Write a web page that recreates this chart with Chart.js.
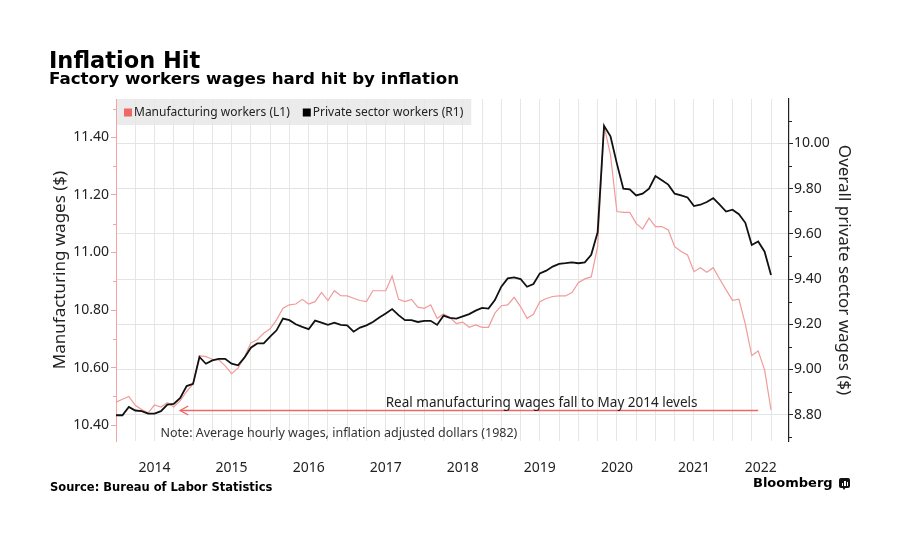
<!DOCTYPE html>
<html>
<head>
<meta charset="utf-8">
<script src="https://cdn.jsdelivr.net/npm/chart.js@4.4.0/dist/chart.umd.min.js"></script>
<style>
html,body{margin:0;padding:0;background:#fff;}
#wrap{position:relative;width:914px;height:542px;overflow:hidden;background:#fff;}
#c{position:absolute;left:0;top:0;}
.t{position:absolute;font-family:'DejaVu Sans',sans-serif;font-weight:bold;color:#000;white-space:nowrap;line-height:1;}
#logoIcon{position:absolute;left:839px;top:478px;width:11px;height:10px;background:#111;border-radius:2px;}
#logoIcon i{position:absolute;bottom:2px;width:1.5px;background:#fff;}
#logoTail{position:absolute;left:842px;top:487px;width:0;height:0;border-left:2px solid transparent;border-right:2px solid transparent;border-top:3px solid #111;}
</style>
</head>
<body>
<div id="wrap">
  <canvas id="c" width="914" height="542"></canvas>
  <div class="t" style="left:49px;top:49px;font-size:22.5px;">Inflation Hit</div>
  <div class="t" style="left:49px;top:70px;font-size:16.7px;">Factory workers wages hard hit by inflation</div>
  <div class="t" style="left:50px;top:481.5px;font-size:11.5px;">Source: Bureau of Labor Statistics</div>
  <div class="t" style="left:753px;top:476px;font-size:13px;">Bloomberg</div>
  <div id="logoIcon"><i style="left:2.5px;height:3px"></i><i style="left:5px;height:5px"></i><i style="left:7.5px;height:4px"></i></div>
  <div id="logoTail"></div>
</div>
<script>
// ---------------- DATA ----------------
// Monthly observations, Dec 2013 .. Jun 2022 (index 0 = Dec 2013)
const firstMonth = {year: 2013, month: 12};
const yearLabels = ['2014', '2015', '2016', '2017', '2018', '2019', '2020', '2021', '2022'];
const leftTickValues = [10.40, 10.60, 10.80, 11.00, 11.20, 11.40];
const rightTickValues = [8.80, 9.00, 9.20, 9.40, 9.60, 9.80, 10.00];

// Manufacturing workers, real avg hourly wages (L1)
const manufacturingWages = [
  10.480, 10.490, 10.500, 10.469, 10.454, 10.443, 10.470, 10.463, 10.478, 10.463,
  10.485, 10.517, 10.543, 10.641, 10.638, 10.629, 10.627, 10.606, 10.579, 10.598,
  10.637, 10.686, 10.697, 10.719, 10.735, 10.766, 10.806, 10.818, 10.821, 10.837,
  10.821, 10.829, 10.861, 10.833, 10.867, 10.850, 10.849, 10.841, 10.833, 10.829,
  10.867, 10.867, 10.867, 10.918, 10.837, 10.829, 10.837, 10.810, 10.806, 10.818,
  10.771, 10.786, 10.774, 10.753, 10.758, 10.740, 10.748, 10.740, 10.740, 10.789,
  10.815, 10.818, 10.844, 10.812, 10.771, 10.785, 10.829, 10.840, 10.847, 10.849,
  10.849, 10.861, 10.895, 10.908, 10.915, 11.020, 11.440, 11.339, 11.142, 11.139,
  11.139, 11.101, 11.081, 11.119, 11.090, 11.090, 11.078, 11.020, 11.003, 10.991,
  10.933, 10.947, 10.931, 10.947, 10.908, 10.870, 10.834, 10.838, 10.751, 10.642,
  10.658, 10.592, 10.453
];

// Private sector workers, real avg hourly wages (R1)
const privateSectorWages = [
  8.797, 8.797, 8.834, 8.818, 8.815, 8.804, 8.804, 8.815, 8.844, 8.847,
  8.874, 8.926, 8.936, 9.055, 9.025, 9.040, 9.047, 9.047, 9.025, 9.018,
  9.052, 9.096, 9.115, 9.115, 9.145, 9.173, 9.225, 9.218, 9.200, 9.188,
  9.178, 9.216, 9.207, 9.197, 9.207, 9.197, 9.195, 9.167, 9.185, 9.195,
  9.210, 9.230, 9.247, 9.267, 9.240, 9.218, 9.218, 9.210, 9.215, 9.215,
  9.197, 9.238, 9.228, 9.225, 9.235, 9.245, 9.260, 9.272, 9.269, 9.307,
  9.366, 9.403, 9.407, 9.400, 9.366, 9.378, 9.425, 9.437, 9.455, 9.467,
  9.470, 9.474, 9.470, 9.474, 9.507, 9.607, 10.078, 10.032, 9.911, 9.800,
  9.797, 9.770, 9.778, 9.800, 9.856, 9.837, 9.818, 9.778, 9.770, 9.761,
  9.723, 9.729, 9.741, 9.758, 9.729, 9.699, 9.707, 9.687, 9.649, 9.551,
  9.566, 9.521, 9.418
];

const seriesLabels = ['Manufacturing workers (L1)', 'Private sector workers (R1)'];
const annotationText = 'Real manufacturing wages fall to May 2014 levels';
const noteText = 'Note: Average hourly wages, inflation adjusted dollars (1982)';
const leftAxisTitle = 'Manufacturing wages ($)';
const rightAxisTitle = 'Overall private sector wages ($)';

// month labels (categories) derived from the first month
const months = manufacturingWages.map((_, i) => {
  const m = (firstMonth.month - 1 + i);
  return (firstMonth.year + Math.floor(m / 12)) + '-' + String(m % 12 + 1).padStart(2, '0');
});

// ---------------- STYLE ----------------
const RED_LINE = '#f29a9a';
const RED_MARK = '#ef6767';
const RED_AXIS = '#f3a5a5';
const FONT = 'Noto Sans';
const X_MAX = 104.8;            // visible time span (months)
const LAST_YEAR_POS = (96 + X_MAX) / 2;
const LEFT_MIN = 10.345, LEFT_MAX = 11.533;
const RIGHT_MIN = 8.683, RIGHT_MAX = 10.197;

const overlay = {
  id: 'overlay',
  beforeDraw(chart) {
    const ctx = chart.ctx, a = chart.chartArea;
    ctx.save();
    ctx.font = '12px "' + FONT + '"';
    const w1 = ctx.measureText(seriesLabels[0]).width;
    const w2 = ctx.measureText(seriesLabels[1]).width;
    const bandW = 18 + w1 + 13 + 10 + w2 + 8;
    ctx.fillStyle = 'rgba(233,233,233,0.9)';
    ctx.fillRect(a.left, a.top, bandW, 26);
    ctx.restore();
  },
  afterDraw(chart) {
    const ctx = chart.ctx, a = chart.chartArea;
    const yL = chart.scales.yL, yR = chart.scales.yR;
    ctx.save();
    // legend
    ctx.font = '12px "' + FONT + '"';
    ctx.textBaseline = 'middle';
    const ly = a.top + 13.5;
    let lx = a.left + 8;
    const colors = [RED_MARK, '#000'];
    seriesLabels.forEach((lab, k) => {
      ctx.fillStyle = colors[k];
      ctx.fillRect(lx, ly - 4, 8, 8);
      ctx.fillStyle = '#222';
      ctx.fillText(lab, lx + 10, ly);
      lx += 10 + ctx.measureText(lab).width + 13;
    });
    // minor ticks
    ctx.lineWidth = 1;
    ctx.strokeStyle = RED_AXIS;
    for (let v = 10.5; v < LEFT_MAX; v += 0.2) {
      const py = Math.round(yL.getPixelForValue(v)) + 0.5;
      ctx.beginPath(); ctx.moveTo(a.left - 3, py); ctx.lineTo(a.left, py); ctx.stroke();
    }
    ctx.strokeStyle = '#222';
    for (let v = 8.7; v < RIGHT_MAX; v += 0.2) {
      const py = Math.round(yR.getPixelForValue(v)) + 0.5;
      ctx.beginPath(); ctx.moveTo(a.right, py); ctx.lineTo(a.right + 3, py); ctx.stroke();
    }
    ctx.restore();
  },
  afterDatasetsDraw(chart) {
    const ctx = chart.ctx, a = chart.chartArea;
    const yL = chart.scales.yL, x = chart.scales.x;
    const level = manufacturingWages[manufacturingWages.length - 1];
    const ay = Math.round(yL.getPixelForValue(level)) + 0.5;
    const x0 = x.getPixelForValue(10), x1 = x.getPixelForValue(100);
    ctx.save();
    ctx.strokeStyle = RED_MARK;
    ctx.lineWidth = 1.4;
    ctx.beginPath(); ctx.moveTo(x0, ay); ctx.lineTo(x1, ay); ctx.stroke();
    ctx.beginPath(); ctx.moveTo(x0 + 8, ay - 4.5); ctx.lineTo(x0, ay); ctx.lineTo(x0 + 8, ay + 4.5); ctx.stroke();
    ctx.fillStyle = '#222';
    ctx.textBaseline = 'alphabetic';
    ctx.font = '13.5px "' + FONT + '"';
    ctx.fillText(annotationText, x.getPixelForValue(42), ay - 3.5);
    ctx.fillStyle = '#333';
    ctx.font = '12.5px "' + FONT + '"';
    ctx.fillText(noteText, x.getPixelForValue(6.93), a.bottom - 4);
    ctx.restore();
  }
};

new Chart(document.getElementById('c'), {
  type: 'line',
  data: {
    labels: months,
    datasets: [
      {
        label: seriesLabels[0],
        data: manufacturingWages.map((v, i) => ({x: i, y: v})),
        yAxisID: 'yL',
        borderColor: RED_LINE,
        borderWidth: 1.2,
        pointRadius: 0,
        tension: 0,
        order: 2
      },
      {
        label: seriesLabels[1],
        data: privateSectorWages.map((v, i) => ({x: i, y: v})),
        yAxisID: 'yR',
        borderColor: '#111',
        borderWidth: 1.8,
        pointRadius: 0,
        tension: 0,
        order: 1
      }
    ]
  },
  options: {
    responsive: false,
    animation: false,
    events: [],
    layout: {padding: {top: 99, left: 0, right: 0, bottom: 0}},
    plugins: {legend: {display: false}, tooltip: {enabled: false}, title: {display: false}},
    scales: {
      x: {
        type: 'linear',
        min: 0,
        max: X_MAX,
        afterBuildTicks(s) {
          const t = [];
          for (let v = 0; v <= 102; v += 3) t.push({value: v});
          t.push({value: LAST_YEAR_POS});
          t.sort((p, q) => p.value - q.value);
          s.ticks = t;
        },
        ticks: {
          autoSkip: false,
          maxRotation: 0,
          padding: 19,
          color: '#222',
          font: {family: FONT, size: 14},
          callback(v) {
            if (Math.abs(v - LAST_YEAR_POS) < 1e-6) return yearLabels[yearLabels.length - 1];
            if (Number.isInteger(v) && (v - 6) % 12 === 0) {
              const k = (v - 6) / 12;
              if (k < yearLabels.length - 1) return yearLabels[k];
            }
            return '';
          }
        },
        grid: {
          drawTicks: false,
          color: c => (c.tick && Number.isInteger(c.tick.value) && c.tick.value > 0) ? '#e6e6e6' : 'rgba(0,0,0,0)',
          lineWidth: 1
        },
        border: {display: false},
        afterFit(s) { s.height = 101; }
      },
      yL: {
        type: 'linear',
        position: 'left',
        min: LEFT_MIN,
        max: LEFT_MAX,
        afterBuildTicks(s) { s.ticks = leftTickValues.map(v => ({value: v})); },
        ticks: {callback: v => v.toFixed(2), color: '#222', font: {family: FONT, size: 14}, padding: 2},
        grid: {drawOnChartArea: false, drawTicks: true, tickLength: 5, tickColor: RED_AXIS, tickWidth: 1},
        border: {display: true, color: RED_AXIS, width: 1},
        title: {display: true, text: leftAxisTitle, color: '#222', font: {family: FONT, size: 17}, padding: {top: 50, bottom: 0}},
        afterFit(s) { s.width = 116; }
      },
      yR: {
        type: 'linear',
        position: 'right',
        min: RIGHT_MIN,
        max: RIGHT_MAX,
        afterBuildTicks(s) { s.ticks = rightTickValues.map(v => ({value: v})); },
        ticks: {callback: v => v.toFixed(2), color: '#222', font: {family: FONT, size: 14}, padding: 1},
        grid: {drawOnChartArea: true, color: '#e4e4e4', drawTicks: true, tickLength: 4, tickColor: '#222', tickWidth: 1},
        border: {display: true, color: '#222', width: 1.2},
        title: {display: true, text: rightAxisTitle, color: '#222', font: {family: FONT, size: 17}, padding: {top: 60, bottom: 0}},
        afterFit(s) { s.width = 125; }
      }
    }
  },
  plugins: [overlay]
});
</script>
</body>
</html>
